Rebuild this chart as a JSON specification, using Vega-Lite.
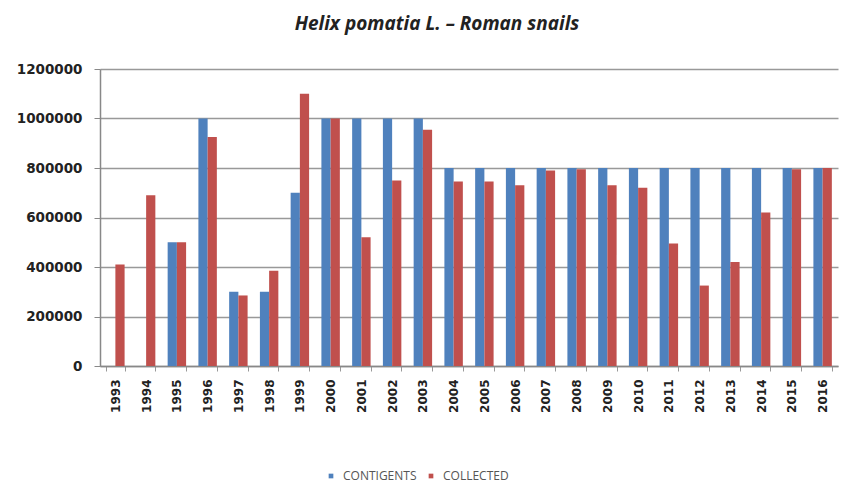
{
  "$schema": "https://vega.github.io/schema/vega-lite/v6.json",
  "width": 738,
  "height": 297,
  "autosize": {"type": "none"},
  "padding": {"left": 100, "top": 69, "right": 3, "bottom": 122},
  "background": "white",
  "title": {
    "text": "Helix pomatia L. – Roman snails",
    "font": "Open Sans",
    "fontSize": 19,
    "fontStyle": "italic",
    "fontWeight": "bold",
    "color": "#222222",
    "anchor": "middle",
    "dx": -32,
    "offset": 28
  },
  "data": {
    "values": [
      {"year": "1993", "series": "CONTIGENTS", "value": 0},
      {"year": "1993", "series": "COLLECTED", "value": 410000},
      {"year": "1994", "series": "CONTIGENTS", "value": 0},
      {"year": "1994", "series": "COLLECTED", "value": 690000},
      {"year": "1995", "series": "CONTIGENTS", "value": 500000},
      {"year": "1995", "series": "COLLECTED", "value": 500000},
      {"year": "1996", "series": "CONTIGENTS", "value": 1000000},
      {"year": "1996", "series": "COLLECTED", "value": 925000},
      {"year": "1997", "series": "CONTIGENTS", "value": 300000},
      {"year": "1997", "series": "COLLECTED", "value": 285000},
      {"year": "1998", "series": "CONTIGENTS", "value": 300000},
      {"year": "1998", "series": "COLLECTED", "value": 385000},
      {"year": "1999", "series": "CONTIGENTS", "value": 700000},
      {"year": "1999", "series": "COLLECTED", "value": 1100000},
      {"year": "2000", "series": "CONTIGENTS", "value": 1000000},
      {"year": "2000", "series": "COLLECTED", "value": 1000000},
      {"year": "2001", "series": "CONTIGENTS", "value": 1000000},
      {"year": "2001", "series": "COLLECTED", "value": 520000},
      {"year": "2002", "series": "CONTIGENTS", "value": 1000000},
      {"year": "2002", "series": "COLLECTED", "value": 750000},
      {"year": "2003", "series": "CONTIGENTS", "value": 1000000},
      {"year": "2003", "series": "COLLECTED", "value": 955000},
      {"year": "2004", "series": "CONTIGENTS", "value": 800000},
      {"year": "2004", "series": "COLLECTED", "value": 745000},
      {"year": "2005", "series": "CONTIGENTS", "value": 800000},
      {"year": "2005", "series": "COLLECTED", "value": 745000},
      {"year": "2006", "series": "CONTIGENTS", "value": 800000},
      {"year": "2006", "series": "COLLECTED", "value": 730000},
      {"year": "2007", "series": "CONTIGENTS", "value": 800000},
      {"year": "2007", "series": "COLLECTED", "value": 790000},
      {"year": "2008", "series": "CONTIGENTS", "value": 800000},
      {"year": "2008", "series": "COLLECTED", "value": 795000},
      {"year": "2009", "series": "CONTIGENTS", "value": 800000},
      {"year": "2009", "series": "COLLECTED", "value": 730000},
      {"year": "2010", "series": "CONTIGENTS", "value": 800000},
      {"year": "2010", "series": "COLLECTED", "value": 720000},
      {"year": "2011", "series": "CONTIGENTS", "value": 800000},
      {"year": "2011", "series": "COLLECTED", "value": 495000},
      {"year": "2012", "series": "CONTIGENTS", "value": 800000},
      {"year": "2012", "series": "COLLECTED", "value": 325000},
      {"year": "2013", "series": "CONTIGENTS", "value": 800000},
      {"year": "2013", "series": "COLLECTED", "value": 420000},
      {"year": "2014", "series": "CONTIGENTS", "value": 800000},
      {"year": "2014", "series": "COLLECTED", "value": 620000},
      {"year": "2015", "series": "CONTIGENTS", "value": 800000},
      {"year": "2015", "series": "COLLECTED", "value": 795000},
      {"year": "2016", "series": "CONTIGENTS", "value": 800000},
      {"year": "2016", "series": "COLLECTED", "value": 800000}
    ]
  },
  "mark": {"type": "bar"},
  "encoding": {
    "x": {
      "field": "year",
      "type": "nominal",
      "scale": {"paddingInner": 0.4, "paddingOuter": 0.2},
      "axis": {
        "title": null,
        "labelAngle": -90,
        "labelFont": "DejaVu Sans",
        "labelFontWeight": "bold",
        "labelFontSize": 12,
        "labelColor": "#222222",
        "labelPadding": 8,
        "tickBand": "extent",
        "tickColor": "#999999",
        "domainColor": "#888888",
        "domainWidth": 1.5,
        "grid": false
      }
    },
    "xOffset": {"field": "series", "type": "nominal", "sort": ["CONTIGENTS", "COLLECTED"]},
    "y": {
      "field": "value",
      "type": "quantitative",
      "scale": {"domain": [0, 1200000]},
      "axis": {
        "title": null,
        "values": [0, 200000, 400000, 600000, 800000, 1000000, 1200000],
        "format": "d",
        "labelFont": "DejaVu Sans",
        "labelFontWeight": "bold",
        "labelFontSize": 13.5,
        "labelColor": "#222222",
        "labelPadding": 12,
        "tickColor": "#888888",
        "tickSize": 6,
        "domainColor": "#888888",
        "domainWidth": 1.5,
        "gridColor": "#999999",
        "gridWidth": 1.5
      }
    },
    "color": {
      "field": "series",
      "type": "nominal",
      "sort": ["CONTIGENTS", "COLLECTED"],
      "scale": {"domain": ["CONTIGENTS", "COLLECTED"], "range": ["#4F81BD", "#C0504D"]},
      "legend": {
        "title": null,
        "orient": "none",
        "direction": "horizontal",
        "legendX": 225,
        "legendY": 401,
        "symbolType": "square",
        "symbolSize": 22,
        "labelFont": "Open Sans",
        "labelFontSize": 12,
        "labelColor": "#555555",
        "columnPadding": 8,
        "labelOffset": 6
      }
    }
  },
  "config": {"view": {"stroke": null}}
}
